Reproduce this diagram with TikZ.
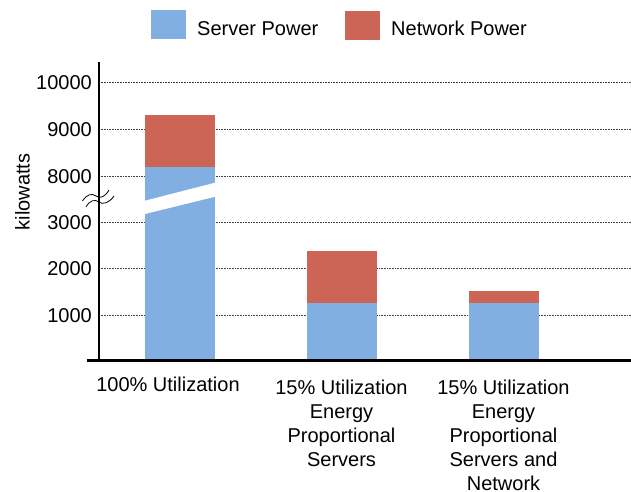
\documentclass[tikz,border=0pt]{standalone}
\usepackage{fontspec}
\setmainfont{Liberation Sans}
\definecolor{serverc}{RGB}{130,175,226}
\definecolor{networkc}{RGB}{205,101,86}
\begin{document}
\begin{tikzpicture}[x=1pt,y=-1pt,
  font=\fontsize{20}{24}\selectfont,
  gridline/.style={line width=0.9pt, black!75, dash pattern=on 1pt off 0.6pt},
  serverbar/.style={fill=serverc},
  networkbar/.style={fill=networkc},
  ticklabel/.style={anchor=base east, inner sep=0pt},
  catlabel/.style={anchor=north, align=center, inner sep=0pt},
  brk/.style={line width=0.8pt, black}]
\useasboundingbox[fill=white] (0,0) rectangle (631,491);
% grid
\foreach \yy/\lab in {82/10000,129/9000,176/8000,222/3000,268/2000,315/1000}{
  \draw[gridline] (99,\yy) -- (631,\yy);
  \node[ticklabel] (t\lab) at (92,\yy+7.2) {\lab};
}
% bars
\fill[serverbar] (145,361) rectangle (215,167);
\fill[networkbar] (145,167) rectangle (215,115);
\fill[white] (145,200.7) -- (215,182.7) -- (215,196.7) -- (145,214) -- cycle;
\fill[serverbar] (307,361) rectangle (377,303);
\fill[networkbar] (307,303) rectangle (377,251);
\fill[serverbar] (469,361) rectangle (539,303);
\fill[networkbar] (469,303) rectangle (539,291);
% axes
\draw[line width=1.2pt] (99,62) -- (99,360);
\draw[line width=2.8pt] (87,360.3) -- (631,360.3);
% axis break
\draw[brk] (82.5,201) .. controls (87,194) and (92,193) .. (96,196) .. controls (100,199) and (105,197) .. (109,190);
\draw[brk] (86,207) .. controls (90,200) and (95,199) .. (99,202) .. controls (103,205) and (109,203) .. (114,196);
% y label
\node[rotate=90, anchor=base, inner sep=0pt] (ylab) at (29.5,192) {kilowatts};
% legend
\fill[serverbar] (151,10) rectangle (186,39);
\node[anchor=base west, inner sep=0pt] (lserver) at (197,35) {Server Power};
\fill[networkbar] (345,11) rectangle (380,40);
\node[anchor=base west, inner sep=0pt] (lnetwork) at (391,35) {Network Power};
% category labels
\node[catlabel] (c1) at (168,376.5) {100\% Utilization};
\node[catlabel] (c2) at (341.5,379.5) {15\% Utilization\\Energy\\Proportional\\Servers};
\node[catlabel] (c3) at (503.5,379.5) {15\% Utilization\\Energy\\Proportional\\Servers and\\Network};
\end{tikzpicture}
\end{document}
